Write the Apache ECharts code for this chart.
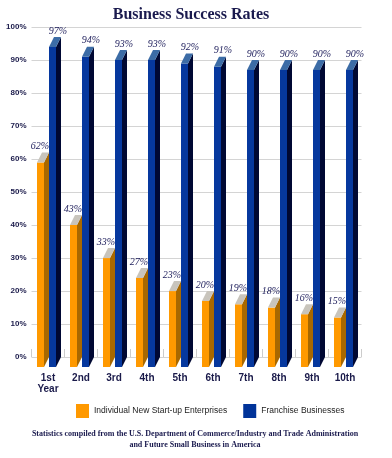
<!DOCTYPE html>
<html>
<head>
<meta charset="utf-8">
<script src="https://cdn.jsdelivr.net/npm/echarts@6/dist/echarts.min.js"></script>
<style>
html,body{margin:0;padding:0;background:#fff;}
#chart{width:392px;height:458px;}
</style>
</head>
<body>
<div id="chart"></div>
<script>
var categories = ['1st\nYear', '2nd', '3rd', '4th', '5th', '6th', '7th', '8th', '9th', '10th'];
var individualStartups = [62, 43, 33, 27, 23, 20, 19, 18, 16, 15];
var franchiseBusinesses = [97, 94, 93, 93, 92, 91, 90, 90, 90, 90];
var yTicks = [0, 10, 20, 30, 40, 50, 60, 70, 80, 90, 100];

var NARROW = "'Liberation Sans Narrow', 'Liberation Sans', Arial, sans-serif";
var SERIF = "'Liberation Serif', 'DejaVu Serif', serif";

function makeRender(offsetX, front, side, topc, labelDx) {
  return function (params, api) {
    var idx = api.value(0), val = api.value(1);
    var c = api.coord([idx, val]);
    var z = api.coord([idx, 0]);
    var W = 7, DX = 5, DY = 10;
    var x0 = c[0] + offsetX;
    var top = c[1], bot = z[1];
    return {
      type: 'group',
      children: [
        { type: 'rect', shape: { x: x0, y: top + DY, width: W, height: bot - top }, style: { fill: front } },
        { type: 'polygon', shape: { points: [[x0 + W, top + DY], [x0 + W + DX, top], [x0 + W + DX, bot], [x0 + W, bot + DY]] }, style: { fill: side } },
        { type: 'polygon', shape: { points: [[x0, top + DY], [x0 + W, top + DY], [x0 + W + DX, top], [x0 + DX, top]] }, style: { fill: topc } },
        { type: 'text', style: { text: val + '%', x: x0 + labelDx, y: top - 1, textAlign: 'center', textVerticalAlign: 'bottom', font: 'italic 10px ' + SERIF, fill: '#1c1c5a' } }
      ]
    };
  };
}

var chart = echarts.init(document.getElementById('chart'), null, { renderer: 'canvas' });
chart.setOption({
  animation: false,
  backgroundColor: '#ffffff',
  title: [
    { text: 'Business Success Rates', left: 186, top: 2, textAlign: 'center',
      textStyle: { fontFamily: SERIF, fontSize: 16, fontWeight: 'bold', color: '#1a1a4e' } },
    { text: 'Statistics compiled from the U.S. Department of Commerce/Industry and Trade Administration\nand Future Small Business in America',
      left: 190, top: 423, textAlign: 'center',
      textStyle: { fontFamily: SERIF, fontSize: 8, fontWeight: 'bold', color: '#1a1a4e', lineHeight: 11 } }
  ],
  legend: {
    left: 71, top: 399, itemWidth: 13, itemHeight: 14, itemGap: 16, icon: 'rect',
    textStyle: { fontFamily: "'Liberation Sans', Arial, sans-serif", fontSize: 8.5, color: '#222' },
    data: ['Individual New Start-up Enterprises', 'Franchise Businesses']
  },
  grid: { left: 31.5, right: 30.5, top: 27, bottom: 101, containLabel: false },
  xAxis: {
    type: 'category', data: categories,
    axisLine: { show: false },
    axisTick: { show: true, inside: true, length: 8, lineStyle: { color: '#cccccc' } },
    axisLabel: { interval: 0, margin: 16, fontFamily: NARROW, fontWeight: 'bold', fontSize: 10, color: '#1a1a4a', lineHeight: 11 }
  },
  yAxis: {
    type: 'value', min: 0, max: 100, interval: 10,
    axisLine: { show: false }, axisTick: { show: false },
    axisLabel: { formatter: function (v) { return yTicks.indexOf(v) >= 0 ? v + '%' : ''; }, margin: 5, fontFamily: NARROW, fontWeight: 'bold', fontSize: 8, color: '#1a1a4a' },
    splitLine: { lineStyle: { color: '#d4d4d4', width: 1 } }
  },
  series: [
    {
      name: 'Individual New Start-up Enterprises', type: 'custom',
      itemStyle: { color: '#FF9900' },
      encode: { x: 0, y: 1 },
      renderItem: makeRender(-11, '#FF9900', '#A86800', '#C8C4BC', 3),
      data: individualStartups.map(function (v, i) { return [i, v]; })
    },
    {
      name: 'Franchise Businesses', type: 'custom',
      itemStyle: { color: '#003399' },
      encode: { x: 0, y: 1 },
      renderItem: makeRender(1, '#06389E', '#000833', '#3C6CA6', 9),
      data: franchiseBusinesses.map(function (v, i) { return [i, v]; })
    }
  ]
});
</script>
</body>
</html>
